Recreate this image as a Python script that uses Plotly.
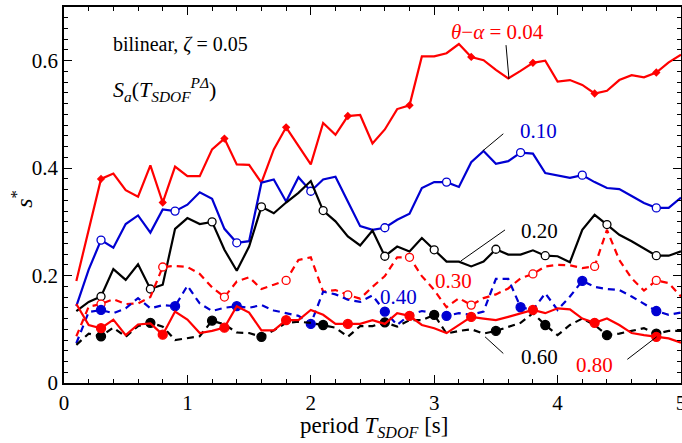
import plotly.graph_objects as go

# Period axis of the SDOF oscillator [s]
period = [round(0.1 * k, 1) for k in range(1, 51)]

# s* for each theta - alpha level
s_004 = [0.190, 0.285, 0.380, 0.390, 0.359, 0.347, 0.405, 0.336, 0.403, 0.385,
         0.385, 0.435, 0.455, 0.407, 0.406, 0.373, 0.435, 0.476, 0.441, 0.407,
         0.484, 0.462, 0.497, 0.499, 0.446, 0.472, 0.510, 0.517, 0.608, 0.608,
         0.614, 0.631, 0.607, 0.601, 0.583, 0.567, 0.581, 0.596, 0.600, 0.561,
         0.564, 0.555, 0.539, 0.544, 0.564, 0.573, 0.569, 0.578, 0.597, 0.611]
s_010 = [0.143, 0.211, 0.266, 0.252, 0.296, 0.312, 0.280, 0.323, 0.320, 0.332,
         0.355, 0.343, 0.287, 0.261, 0.264, 0.373, 0.379, 0.338, 0.383, 0.357,
         0.379, 0.384, 0.338, 0.292, 0.285, 0.289, 0.304, 0.315, 0.363, 0.374,
         0.374, 0.365, 0.411, 0.432, 0.408, 0.413, 0.429, 0.427, 0.391, 0.386,
         0.382, 0.387, 0.374, 0.363, 0.361, 0.348, 0.335, 0.326, 0.326, 0.345]
s_020 = [0.134, 0.151, 0.161, 0.212, 0.192, 0.221, 0.175, 0.183, 0.287, 0.307,
         0.296, 0.300, 0.248, 0.209, 0.254, 0.328, 0.316, 0.336, 0.354, 0.376,
         0.321, 0.301, 0.273, 0.256, 0.284, 0.236, 0.254, 0.245, 0.270, 0.248,
         0.226, 0.226, 0.217, 0.226, 0.249, 0.239, 0.239, 0.247, 0.237, 0.236,
         0.225, 0.285, 0.313, 0.295, 0.276, 0.264, 0.251, 0.237, 0.237, 0.245]
s_030 = [0.087, 0.142, 0.147, 0.156, 0.147, 0.148, 0.160, 0.216, 0.218, 0.216,
         0.203, 0.178, 0.160, 0.189, 0.197, 0.175, 0.183, 0.191, 0.229, 0.234,
         0.170, 0.173, 0.164, 0.157, 0.179, 0.199, 0.234, 0.234, 0.199, 0.173,
         0.141, 0.158, 0.145, 0.158, 0.165, 0.176, 0.195, 0.203, 0.217, 0.220,
         0.219, 0.214, 0.217, 0.285, 0.229, 0.195, 0.172, 0.191, 0.186, 0.161]
s_040 = [0.074, 0.132, 0.136, 0.130, 0.139, 0.158, 0.139, 0.145, 0.143, 0.181,
         0.148, 0.134, 0.140, 0.143, 0.140, 0.145, 0.135, 0.130, 0.125, 0.110,
         0.170, 0.165, 0.155, 0.151, 0.163, 0.133, 0.108, 0.127, 0.134, 0.130,
         0.125, 0.130, 0.127, 0.133, 0.194, 0.194, 0.141, 0.136, 0.167, 0.136,
         0.161, 0.190, 0.179, 0.175, 0.173, 0.161, 0.148, 0.134, 0.127, 0.131]
s_060 = [0.071, 0.092, 0.087, 0.103, 0.086, 0.106, 0.112, 0.105, 0.080, 0.084,
         0.087, 0.116, 0.109, 0.094, 0.093, 0.086, 0.098, 0.112, 0.114, 0.112,
         0.108, 0.103, 0.086, 0.106, 0.106, 0.113, 0.105, 0.117, 0.117, 0.127,
         0.092, 0.097, 0.100, 0.092, 0.097, 0.105, 0.112, 0.130, 0.108, 0.089,
         0.108, 0.120, 0.108, 0.089, 0.092, 0.097, 0.102, 0.092, 0.097, 0.097]
s_080 = [0.147, 0.108, 0.102, 0.118, 0.089, 0.109, 0.111, 0.090, 0.133, 0.118,
         0.093, 0.097, 0.103, 0.143, 0.131, 0.098, 0.098, 0.117, 0.117, 0.136,
         0.127, 0.110, 0.110, 0.110, 0.117, 0.110, 0.130, 0.125, 0.108, 0.102,
         0.093, 0.108, 0.123, 0.120, 0.117, 0.123, 0.130, 0.136, 0.130, 0.139,
         0.137, 0.120, 0.112, 0.120, 0.108, 0.093, 0.089, 0.086, 0.083, 0.075]

# Periods at which each curve carries a symbol
mark_a = [0.3, 0.8, 1.3, 1.8, 2.3, 2.8, 3.3, 3.8, 4.3, 4.8]
mark_b = [0.3, 0.9, 1.4, 2.0, 2.6, 3.1, 3.7, 4.2, 4.8]
mark_c = [0.3, 0.7, 1.2, 1.6, 2.1, 2.6, 3.0, 3.5, 3.9, 4.4, 4.8]

RED = "#ff0000"
BLUE = "#0000d2"
BLACK = "#000000"
FONT = "Liberation Serif, Times New Roman, Times, serif"

fig = go.Figure()


def add_curve(values, marks, color, dash, symbol, fill, msize):
    fig.add_trace(go.Scatter(
        x=period, y=values, mode="lines",
        line=dict(color=color, width=2.2, dash=dash),
        hoverinfo="skip", showlegend=False))
    idx = [period.index(p) for p in marks]
    fig.add_trace(go.Scatter(
        x=[period[i] for i in idx], y=[values[i] for i in idx],
        mode="markers",
        marker=dict(symbol=symbol, size=msize, color=fill,
                    line=dict(color=color, width=1.3)),
        hoverinfo="skip", showlegend=False))


add_curve(s_004, mark_a, RED, "solid", "diamond", RED, 5)
add_curve(s_010, mark_b, BLUE, "solid", "circle", "white", 8)
add_curve(s_020, mark_c, BLACK, "solid", "circle", "white", 8)
add_curve(s_030, mark_a, RED, "7px,5px", "circle", "white", 8)
add_curve(s_040, mark_b, BLUE, "7px,5px", "circle", BLUE, 9)
add_curve(s_060, mark_c, BLACK, "7px,5px", "circle", BLACK, 9)
add_curve(s_080, mark_a, RED, "solid", "circle", RED, 9)

# Leader lines from the curve labels
leaders = [((3.606, 0.566), (3.582, 0.629)),
           ((3.393, 0.432), (3.560, 0.464)),
           ((3.215, 0.227), (3.574, 0.285)),
           ((3.412, 0.086), (3.560, 0.055)),
           ((4.565, 0.044), (4.803, 0.086))]
for (x0, y0), (x1, y1) in leaders:
    fig.add_shape(type="line", x0=x0, y0=y0, x1=x1, y1=y1,
                  line=dict(color=BLACK, width=1))

labels = [
    (3.513, 0.653, "<i>θ</i>−<i>α</i> = 0.04", RED),
    (3.849, 0.469, "0.10", BLUE),
    (3.850, 0.283, "0.20", BLACK),
    (3.155, 0.189, "0.30", RED),
    (2.709, 0.161, "0.40", BLUE),
    (3.850, 0.049, "0.60", BLACK),
    (4.299, 0.034, "0.80", RED),
]
for x, y, text, color in labels:
    fig.add_annotation(x=x, y=y, text=text, showarrow=False,
                       font=dict(family=FONT, size=21, color=color),
                       xanchor="center", yanchor="middle")

fig.add_annotation(x=0.38, y=0.631, text="bilinear, <i>ζ</i> = 0.05",
                   showarrow=False, xanchor="left", yanchor="middle",
                   font=dict(family=FONT, size=20, color=BLACK))
fig.add_annotation(x=0.38, y=0.546,
                   text="<i>S<sub>a</sub></i>(<i>T<sub>SDOF</sub><sup>PΔ</sup></i>)",
                   showarrow=False, xanchor="left", yanchor="middle",
                   font=dict(family=FONT, size=22, color=BLACK))

# Axis titles
fig.add_annotation(xref="paper", yref="paper", x=0.503, y=-0.118,
                   text="period <i>T<sub>SDOF</sub></i> [s]", showarrow=False,
                   xanchor="center", yanchor="middle",
                   font=dict(family=FONT, size=23, color=BLACK))
fig.add_annotation(xref="paper", yref="paper", x=-0.068, y=0.49,
                   text="<i>s</i><sup>*</sup>", showarrow=False, textangle=-90,
                   xanchor="center", yanchor="middle",
                   font=dict(family=FONT, size=24, color=BLACK))

axis_common = dict(showline=True, linecolor=BLACK, linewidth=1.5, mirror="ticks",
                   ticks="inside", ticklen=8, tickwidth=1.2, tickcolor=BLACK,
                   showgrid=False, zeroline=False, automargin=False,
                   ticklabeloverflow="allow",
                   tickfont=dict(family=FONT, size=21, color=BLACK))

fig.update_xaxes(range=[0, 5], dtick=1, tick0=0,
                 minor=dict(dtick=0.2, ticks="inside", ticklen=4,
                            tickcolor=BLACK, tickwidth=1),
                 **axis_common)
fig.update_yaxes(range=[0, 0.7], dtick=0.2, tick0=0,
                 minor=dict(dtick=0.02, ticks="inside", ticklen=4,
                            tickcolor=BLACK, tickwidth=1),
                 **axis_common)

fig.update_layout(width=682, height=443,
                  margin=dict(l=64, r=1, t=7, b=60),
                  paper_bgcolor="white", plot_bgcolor="white",
                  font=dict(family=FONT),
                  showlegend=False)

fig.write_html("out.html")
